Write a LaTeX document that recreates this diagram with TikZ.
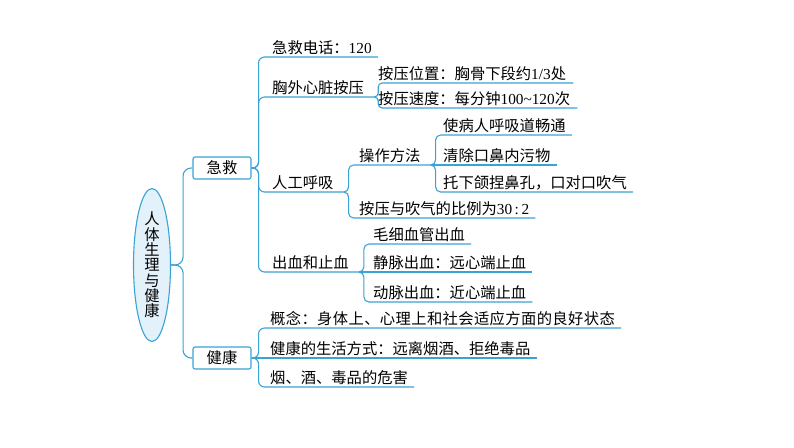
\documentclass[tikz,border=0pt]{standalone}
\usepackage{fontspec}
\setmainfont{Noto Sans CJK SC}
\newfontfamily\latf{Liberation Serif}
\newcommand{\nm}[1]{{\latf #1}}
\usetikzlibrary{shapes.geometric}
\definecolor{lb}{HTML}{3AA3D6}
\definecolor{lbfill}{HTML}{E3F1FA}
\begin{document}
\begin{tikzpicture}[x=1pt,y=-1pt,
  every node/.style={font=\fontsize{15.3}{15.3}\selectfont, text=black},
  leaf/.style={anchor=south west, inner xsep=0pt, inner ysep=1.5pt, text height=11pt, text depth=2pt},
  conn/.style={draw=lb, line width=1.1pt, rounded corners=6pt},
  catbox/.style={draw=lb, line width=1.1pt, fill=white, rounded corners=2pt, minimum width=58pt, minimum height=22pt, inner sep=0pt},
  rootell/.style={ellipse, draw=lb, fill=lbfill, line width=1.1pt, minimum width=37pt, minimum height=153pt, inner sep=0pt, align=center}]
\useasboundingbox (0,0) rectangle (794,447);

\node[rootell] (root) at (152,265) {人\\体\\生\\理\\与\\健\\康};
\node[catbox] (jj) at (222,168) {急救};
\node[catbox] (jk) at (222,358) {健康};

\node[leaf] (a1) at (272,57) {急救电话：\nm{120}};
\node[leaf] (a2) at (272,97) {胸外心脏按压};
\node[leaf] (a3) at (272,192) {人工呼吸};
\node[leaf] (a4) at (272,272) {出血和止血};
\node[leaf] (b1) at (378,83) {按压位置：胸骨下段约\nm{1/3}处};
\node[leaf] (b2) at (378,108) {按压速度：每分钟\nm{100\textasciitilde120}次};
\node[leaf] (c1) at (359,165) {操作方法};
\node[leaf] (c2) at (359,218) {按压与吹气的比例为\nm{30\,:\,2}};
\node[leaf] (d1) at (443,135) {使病人呼吸道畅通};
\node[leaf] (d2) at (443,165) {清除口鼻内污物};
\node[leaf] (d3) at (443,192) {托下颌捏鼻孔，口对口吹气};
\node[leaf] (e1) at (373,244) {毛细血管出血};
\node[leaf] (e2) at (373,272) {静脉出血：远心端止血};
\node[leaf] (e3) at (373,302) {动脉出血：近心端止血};
\node[leaf] (f1) at (270,328) {\addfontfeatures{LetterSpace=2.5}概念：身体上、心理上和社会适应方面的良好状态};
\node[leaf] (f2) at (270,358) {健康的生活方式：远离烟酒、拒绝毒品};
\node[leaf] (f3) at (270,387) {烟、酒、毒品的危害};

% root
\draw[conn, rounded corners=8pt] (root.east) -- ++(12,0) |- (jj.west);
\draw[conn, rounded corners=8pt] (root.east) -- ++(12,0) |- (jk.west);
% 急救
\foreach \c/\s in {a1/6, a2/10, a3/10, a4/10}
  \draw[conn] (jj.east) -- ++(7,0) |- ([xshift=\s pt]\c.south east);
% 胸外心脏按压
\foreach \c in {b1,b2}
  \draw[conn, rounded corners=4pt] ([xshift=10pt]a2.south east) -- ++(4,0) |- ([xshift=7pt]\c.south east);
% 人工呼吸
\draw[conn, rounded corners=5pt] ([xshift=10pt]a3.south east) -- ++(5,0) |- ([xshift=10pt]c1.south east);
\draw[conn, rounded corners=5pt] ([xshift=10pt]a3.south east) -- ++(5,0) |- ([xshift=6pt]c2.south east);
% 操作方法
\draw[conn, rounded corners=5pt] ([xshift=10pt]c1.south east) -- ++(5,0) |- ([xshift=6pt]d1.south east);
\draw[conn] ([xshift=10pt]c1.south east) -- ([xshift=6pt]d2.south east);
\draw[conn, rounded corners=5pt] ([xshift=10pt]c1.south east) -- ++(5,0) |- ([xshift=6pt]d3.south east);
% 出血和止血
\draw[conn, rounded corners=5pt] ([xshift=10pt]a4.south east) -- ++(5,0) |- ([xshift=6pt]e1.south east);
\draw[conn] ([xshift=10pt]a4.south east) -- ([xshift=6pt]e2.south east);
\draw[conn, rounded corners=5pt] ([xshift=10pt]a4.south east) -- ++(5,0) |- ([xshift=6pt]e3.south east);
% 健康
\draw[conn] (jk.east) -- ++(7,0) |- ([xshift=6pt]f1.south east);
\draw[conn] (jk.east) -- ([xshift=6pt]f2.south east);
\draw[conn] (jk.east) -- ++(7,0) |- ([xshift=6pt]f3.south east);
\end{tikzpicture}
\end{document}
